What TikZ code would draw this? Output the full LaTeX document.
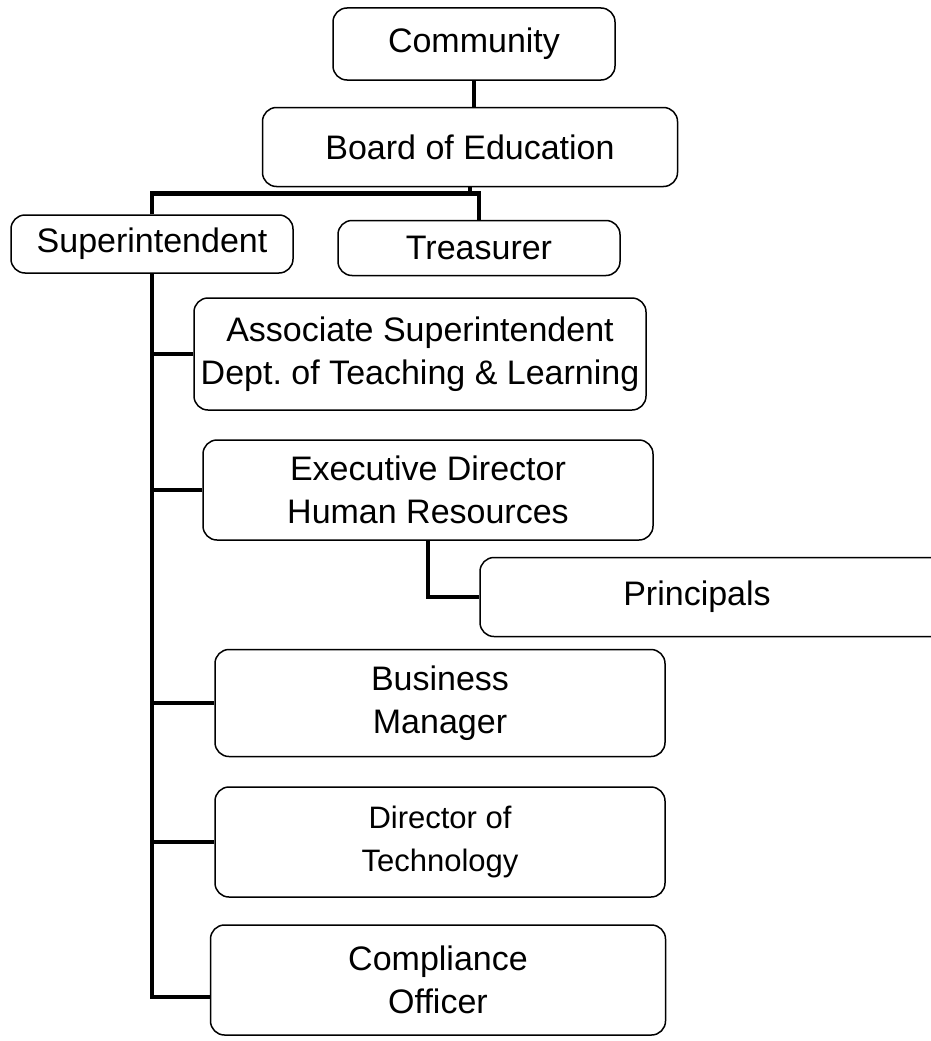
\documentclass[tikz,border=0pt]{standalone}
\usepackage{fontspec}
\setmainfont{Liberation Sans}
\tikzset{
  orgbox/.style={draw, line width=1.5pt, rounded corners=14pt, align=center,
    inner sep=0pt, font=\fontsize{34}{43}\selectfont},
  orgline/.style={line width=4.5pt}
}
\begin{document}
\begin{tikzpicture}[x=1pt,y=-1pt]
  \useasboundingbox (0,0) rectangle (930,1041);
  % top of the chart
  \node[orgbox, minimum width=282pt, minimum height=72pt] (community) at (474,44) {Community};
  \node[orgbox, minimum width=415pt, minimum height=79pt] (board) at (470,147) {Board of Education};
  \node[orgbox, minimum width=282pt, minimum height=58pt] (super) at (152,244) {Superintendent};
  \node[orgbox, minimum width=282pt, minimum height=55pt] (treasurer) at (479,248) {Treasurer};
  % staff under the superintendent
  \node[orgbox, minimum width=452pt, minimum height=112pt] (assoc) at (420,354)
    {Associate Superintendent\\Dept.\ of Teaching \& Learning};
  \node[orgbox, minimum width=450pt, minimum height=100pt] (exec) at (428,490)
    {Executive Director\\Human Resources};
  \node[orgbox, minimum width=480pt, minimum height=79pt] (principals) at (720,597)
    {Principals\hspace*{46pt}};
  \node[orgbox, minimum width=450pt, minimum height=107pt] (business) at (440,703)
    {Business\\Manager};
  \node[orgbox, minimum width=450pt, minimum height=110pt, font=\fontsize{31}{43}\selectfont] (tech) at (440,842)
    {Director of\\Technology};
  \node[orgbox, minimum width=455pt, minimum height=110pt] (compliance) at (438,980)
    {Compliance\\Officer};
  % connectors
  \draw[orgline] (community.south) -- (community.south |- board.north);
  \draw[orgline] (board.south) -- ++(0,6) coordinate (bus);
  \draw[orgline] (super.north) |- (bus) -| (treasurer.north);
  \draw[orgline] (super.south) |- ([yshift=-17pt]compliance.west);
  \foreach \n in {assoc,exec,business,tech}
    \draw[orgline] (\n.west) -- (\n.west -| super.south);
  \draw[orgline] (exec.south) |- (principals.west);
\end{tikzpicture}
\end{document}
